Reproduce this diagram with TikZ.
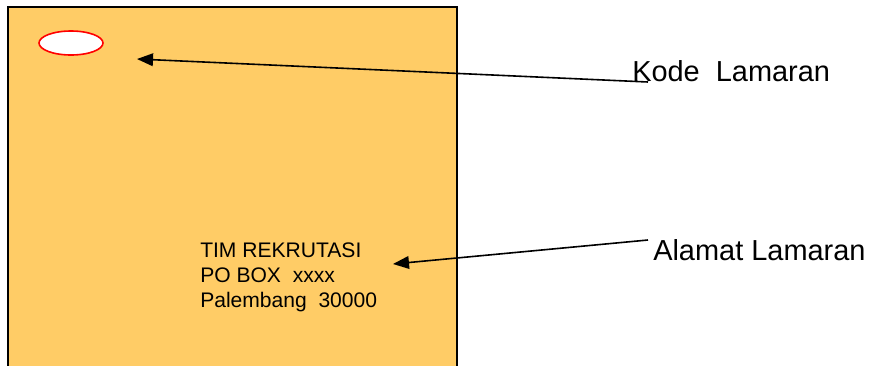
\documentclass[tikz,border=0pt]{standalone}
\usepackage{fontspec}
\setmainfont{Liberation Sans}
\usetikzlibrary{positioning,arrows.meta}
\definecolor{amplop}{HTML}{FFCC66}

\begin{document}
\begin{tikzpicture}[x=0.75pt,y=0.75pt,yscale=-1,xscale=1,
  label text/.style={inner sep=0pt,font=\fontsize{21.7}{26}\selectfont},
  pointer/.style={line width=1.2pt,-{Triangle[length=12pt,width=9.5pt]}}]
\useasboundingbox (0,0) rectangle (872,365);
\clip (0,0) rectangle (872,365);

%Envelope
\draw [fill=amplop, line width=1.2pt] (8,7) rectangle (457,380);

%Ellipse [id:kode]
\draw [draw=red, fill=white, line width=1.2pt] (71,43) ellipse (32 and 12);

% Text Node
\node [inner sep=0pt, anchor=north west, align=left, font=\fontsize{15.8}{18.4}\selectfont] (alamatisi) at (200,243) {TIM REKRUTASI\\PO BOX~~xxxx\\Palembang~~30000};
% Text Node
\node [label text, anchor=base west] (kode) at (632,81) {Kode~~Lamaran};
% Text Node
\node [label text, anchor=base west] (alamat) at (653,260) {Alamat Lamaran};

\coordinate (kodeujung) at (137,59);
\coordinate (kodepangkal) at (648,82);
\coordinate (alamatujung) at (393,264);
\coordinate (alamatpangkal) at (648,240);

%Straight Lines
\draw [pointer] (kodepangkal) -- (kodeujung);
%Straight Lines
\draw [pointer] (alamatpangkal) -- (alamatujung);
\end{tikzpicture}
\end{document}
